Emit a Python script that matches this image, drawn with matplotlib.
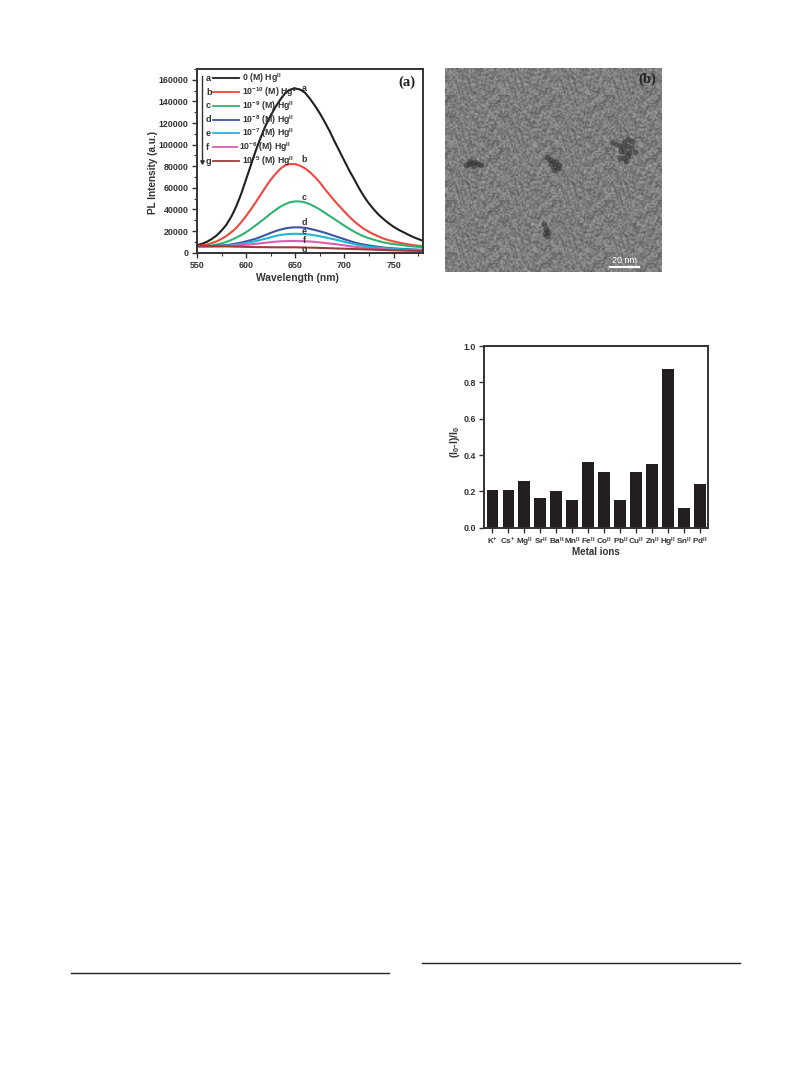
import numpy as np
import matplotlib
matplotlib.use('Agg')
import matplotlib.pyplot as plt
from matplotlib.ticker import MultipleLocator

plt.rcParams['font.family'] = ['Liberation Sans', 'DejaVu Sans']
plt.rcParams['font.weight'] = 'bold'
plt.rcParams['mathtext.fontset'] = 'custom'
plt.rcParams['mathtext.rm'] = 'Liberation Sans:bold'
plt.rcParams['mathtext.it'] = 'Liberation Sans:bold'
plt.rcParams['mathtext.bf'] = 'Liberation Sans:bold'

W, H = 809, 1067
DARK = '#333333'

# panel a, PL spectra, one value each 5 nm
wavelength = list(range(550, 785, 5))
pl_a = [7000, 8200, 10000, 12700, 16000, 20500, 26000, 33500, 43000, 54500, 68000, 81500,
        95000, 107000, 118000, 127000, 135000, 142000, 148000, 151000, 152000, 151000, 148000, 142500,
        136000, 129000, 121000, 112500, 103000, 94000, 85000, 76000, 68000, 59500, 52000, 45500,
        40000, 35000, 31000, 27300, 24000, 21300, 19000, 16700, 14500, 12700, 11000]
pl_b = [6000, 6600, 7500, 8800, 10500, 12800, 15500, 19000, 23000, 28200, 34000, 40400,
        47000, 54000, 61000, 67500, 73000, 77800, 81000, 82000, 82000, 80500, 78000, 74500,
        70000, 65000, 59000, 53500, 48000, 43000, 38000, 33300, 29000, 25300, 22000, 19300,
        17000, 14900, 13000, 11600, 10500, 9400, 8500, 7700, 7000, 6500, 6000]
pl_c = [5500, 5700, 6000, 6600, 7500, 8600, 10000, 11800, 14000, 16300, 19000, 22100,
        25500, 29000, 32500, 36200, 39500, 42700, 45000, 46800, 47500, 47400, 46500, 44800,
        42500, 40000, 37000, 34000, 31000, 28000, 25000, 22100, 19500, 17100, 15000, 13400,
        12000, 10700, 9500, 8700, 8000, 7400, 6800, 6300, 5800, 5400, 5000]
pl_d = [6000, 6000, 6000, 6200, 6500, 6700, 7000, 7700, 8500, 9400, 10500, 11700,
        13000, 14700, 16500, 18300, 20000, 21400, 22500, 23200, 23500, 23400, 23000, 22100,
        21000, 19800, 18500, 17000, 15500, 14000, 12500, 11000, 9500, 8400, 7500, 6700,
        6000, 5400, 4800, 4400, 4000, 3700, 3500, 3200, 3000, 2800, 2700]
pl_e = [5500, 5500, 5500, 5600, 5800, 6000, 6300, 6900, 7500, 8200, 9000, 9900,
        10800, 11900, 13000, 14300, 15500, 16400, 17000, 17400, 17500, 17400, 17200, 16700,
        16000, 15200, 14300, 13300, 12300, 11200, 10000, 9000, 8000, 7100, 6300, 5600,
        5000, 4600, 4200, 3800, 3500, 3200, 3000, 2800, 2700, 2500, 2400]
pl_f = [6000, 6000, 6000, 6000, 6000, 6100, 6200, 6400, 6700, 7000, 7400, 7800,
        8200, 8700, 9200, 9700, 10200, 10500, 10700, 10800, 10800, 10700, 10600, 10300,
        10000, 9500, 9000, 8500, 8000, 7400, 6800, 6100, 5500, 5000, 4500, 4100,
        3800, 3500, 3200, 2900, 2700, 2500, 2400, 2200, 2100, 2000, 1900]
pl_g = [6500, 6400, 6300, 6100, 6000, 5900, 5800, 5700, 5600, 5500, 5400, 5300,
        5200, 5150, 5100, 5050, 5000, 5000, 5000, 5000, 5000, 4900, 4800, 4700,
        4600, 4450, 4300, 4150, 4000, 3850, 3700, 3550, 3400, 3250, 3100, 2950,
        2800, 2650, 2500, 2350, 2200, 2100, 2000, 1900, 1800, 1700, 1600]
series = [pl_a, pl_b, pl_c, pl_d, pl_e, pl_f, pl_g]
letters = ['a', 'b', 'c', 'd', 'e', 'f', 'g']
colors = ['#231f20', '#f0483e', '#2fb36f', '#3b55a5', '#1fb6d6', '#d85fb0', '#9c3d3d']
conc = ['0 (M) Hg$^{II}$', '10$^{-10}$ (M) Hg$^{II}$', '10$^{-9}$ (M) Hg$^{II}$',
        '10$^{-8}$ (M) Hg$^{II}$', '10$^{-7}$ (M) Hg$^{II}$', '10$^{-6}$ (M) Hg$^{II}$',
        '10$^{-5}$ (M) Hg$^{II}$']
letter_y = [152000, 85800, 51000, 28000, 19500, 11700, 3400]

# panel c, quenching per metal ion
ions = ['K$^{+}$', 'Cs$^{+}$', 'Mg$^{II}$', 'Sr$^{II}$', 'Ba$^{II}$', 'Mn$^{II}$', 'Fe$^{II}$',
        'Co$^{II}$', 'Pb$^{II}$', 'Cu$^{II}$', 'Zn$^{II}$', 'Hg$^{II}$', 'Sn$^{II}$', 'Pd$^{II}$']
quench = [0.21, 0.21, 0.255, 0.165, 0.20, 0.155, 0.36, 0.305, 0.15, 0.305, 0.35, 0.875, 0.11, 0.24]

# panel b, micrograph: grain tiles and dark particle clusters, picture px
grain_a = [[ 22, -30,  14,  40, -18,  -6,  30],
           [-26,  34, -12, -36,  20,  38, -22],
           [ 38, -10, -32,  16,  -4, -34,  12],
           [-16,  24,  42, -28,  32,  10, -40],
           [  8, -38,   6,  26, -24,  44, -14]]
grain_b = [[-12,  18,  -4,  10, -20],
           [ 16, -22,  12, -14,  24],
           [ -6,   8, -24,  20,  -2],
           [ 22, -16,   4, -10,  14],
           [-18,   2,  18, -26,   6],
           [ 10, -20,  -8,  16, -12],
           [ -2,  26, -14,   6,  20],
           [ 14, -10,  22, -18,  -4],
           [-24,  12,   0,  24, -16],
           [  4, -14,  20,  -6,  10],
           [ 18,  -8, -18,  12,  -2]]
blob_x = [466, 469, 472, 475, 478, 481, 470, 474,
          547, 550, 553, 556, 559, 551, 555, 558, 554,
          612, 616, 620, 624, 628, 632, 623, 627, 631, 635, 621, 625, 629, 620, 624, 628, 626,
          544, 546, 548, 545, 547]
blob_y = [165, 164, 163, 162, 164, 165, 161, 166,
          157, 160, 161, 162, 165, 164, 166, 168, 170,
          142, 144, 146, 142, 139, 141, 147, 146, 148, 152, 151, 152, 153, 158, 158, 156, 161,
          224, 229, 232, 233, 236]


def px_axes(fig, left, top, right, bottom):
    return fig.add_axes([left / W, 1 - bottom / H, (right - left) / W, (bottom - top) / H])


def px_text(fig, x, y, s, **kw):
    kw.setdefault('ha', 'left')
    kw.setdefault('va', 'center')
    fig.text(x / W, 1 - y / H, s, **kw)


def style_axes(ax):
    for sp in ax.spines.values():
        sp.set_linewidth(1.4)
        sp.set_color(DARK)
    ax.tick_params(which='major', length=3.5, width=1, color=DARK, labelsize=6.4, pad=2.5, labelcolor=DARK)
    ax.tick_params(which='minor', length=2, width=0.8, color=DARK)


fig = plt.figure(figsize=(W / 100, H / 100), dpi=100)

# (a) spectra
ax = px_axes(fig, 197, 69, 423, 252.7)
for vals, c in zip(series, colors):
    ax.plot(wavelength, vals, color=c, lw=1.5)
ax.set_xlim(550, 780)
ax.set_ylim(0, 170000)
ax.xaxis.set_major_locator(MultipleLocator(50))
ax.xaxis.set_minor_locator(MultipleLocator(25))
ax.yaxis.set_major_locator(MultipleLocator(20000))
ax.yaxis.set_minor_locator(MultipleLocator(10000))
style_axes(ax)
ax.set_xticks([550, 600, 650, 700, 750])
for l, yy in zip(letters, letter_y):
    ax.text(659, yy, l, fontsize=6.4, color=DARK, ha='center', va='center')
px_text(fig, 153, 172, 'PL Intensity (a.u.)', rotation=90, ha='center', fontsize=7.2, color=DARK)
px_text(fig, 297, 278, 'Wavelength (nm)', ha='center', fontsize=7.4, color=DARK)
px_text(fig, 407, 82, '(a)', ha='center', fontsize=10.5, family='Liberation Serif', color='#222222')

# hand-made legend, same as in the figure
row_y = [78.3, 92.3, 106, 119.7, 133.3, 147, 161]
text_x = [241.7, 242, 242, 242, 242, 239, 242]
line_end = [239, 239, 239, 239, 239, 237, 239]
for i in range(7):
    px_text(fig, 206, row_y[i], letters[i], fontsize=6.6, color=DARK)
    fig.add_artist(plt.Line2D([213 / W, line_end[i] / W], [1 - row_y[i] / H] * 2, color=colors[i], lw=1.3))
    px_text(fig, text_x[i], row_y[i], conc[i], fontsize=6.3, color=DARK)
fig.add_artist(plt.Line2D([201.7 / W] * 2, [1 - 76 / H, 1 - 162 / H], color=DARK, lw=1.0))
fig.add_artist(plt.Line2D([201.7 / W], [1 - 162 / H], marker='v', ms=2.5, color=DARK))

# (b) micrograph, grain comes from the two tiles, stepped unevenly so no streaks show
ax2 = px_axes(fig, 444.7, 68.3, 661, 272.3)
ta = np.array(grain_a)
tb = np.array(grain_b)
img = np.zeros((136, 144))
for r in range(136):
    for k in range(144):
        img[r, k] = 124 + 0.62 * ta[(r * r + 3 * k) % 5, (k * k + r) % 7] + 0.5 * tb[(r * k + r) % 11, (k * k + 2 * r) % 5]
ax2.imshow(img, cmap='gray', vmin=0, vmax=255, extent=(444.7, 661, 272.3, 68.3),
           aspect='auto', interpolation='bilinear')
ax2.scatter(blob_x, blob_y, s=18, color='#333333', alpha=0.55, linewidths=0)
ax2.set_xlim(444.7, 661)
ax2.set_ylim(272.3, 68.3)
ax2.axis('off')
ax2.plot([610, 639.3], [266.7, 266.7], color='white', lw=1.6)
ax2.text(624.6, 260, '20 nm', color='white', fontsize=6.5, ha='center', va='center', weight='normal')
ax2.text(647.7, 79, '(b)', color='#222222', fontsize=10.5, ha='center', va='center', family='Liberation Serif')

# (c) selectivity bars
ax3 = px_axes(fig, 484.3, 346, 708, 527.7)
ax3.bar(range(len(quench)), quench, width=0.72, color='#231f20')
ax3.set_xlim(-0.5, 13.5)
ax3.set_ylim(0, 1.0)
ax3.yaxis.set_major_locator(MultipleLocator(0.2))
ax3.set_xticks(range(len(ions)))
ax3.set_xticklabels(ions)
style_axes(ax3)
ax3.tick_params(axis='x', labelsize=5.9, pad=2)
px_text(fig, 455, 442, '(I$_0$-I)/I$_0$', rotation=90, ha='center', fontsize=7.5, color=DARK)
px_text(fig, 596, 552, 'Metal ions', ha='center', fontsize=7, color=DARK)

# page rules under the two text columns
fig.add_artist(plt.Line2D([71 / W, 389 / W], [1 - 973 / H] * 2, color='#222222', lw=1.0))
fig.add_artist(plt.Line2D([422 / W, 740 / W], [1 - 963 / H] * 2, color='#222222', lw=1.0))

fig.savefig('out.png', dpi=100)
